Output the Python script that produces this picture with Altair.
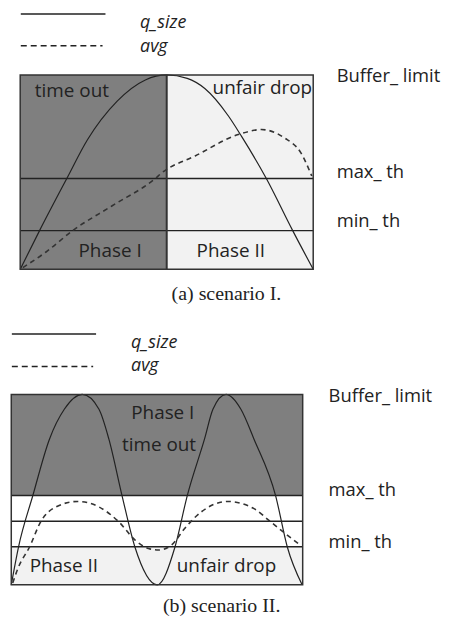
import altair as alt
import pandas as pd

# ---------------- data (box = 0..100 in both axes) ----------------
# scenario I
a_qsize_x = [0, 6.6, 15.9, 22.9, 33.1, 42.7, 50, 57, 63, 71, 75.5, 84, 93, 100]
a_qsize_y = [0, 19.9, 46.7, 66.5, 86.5, 97.4, 100, 98.2, 93.0, 79.0, 68.5, 46.7, 19.9, 0]
a_avg_x = [0.9, 8.8, 17.9, 31.4, 46.1, 48.4, 59.7, 74.4, 82.3, 90.2, 95.8, 99.5]
a_avg_y = [0.9, 8.9, 19.9, 32.7, 46.7, 49.7, 58.3, 69.3, 71.9, 67.6, 59.9, 48.0]
a_thresholds = [46.7, 19.9]          # max_th, min_th
a_phase_split = 50

# scenario II
b_qsize_x = [0, 2.5, 7.4, 13.1, 18.2, 24.4, 30.1, 33.5, 38, 42.4, 50.1, 56.2, 60.4, 66.3, 69.2, 73.7, 78.8, 83.3, 90.7, 94.7, 99.8]
b_qsize_y = [0, 20, 46.9, 76.5, 92.2, 100, 92.2, 76.5, 46.9, 20, 0, 20, 46.9, 76.5, 92.2, 100, 92.2, 76.5, 46.9, 20, 0]
b_avg_x = [0.5, 2.3, 6.3, 10.2, 15.3, 22.7, 30.1, 36.9, 42.5, 47.1, 50.5, 55, 59.5, 65.2, 74.3, 83.3, 89, 94.7, 99.2]
b_avg_y = [1, 8.7, 20, 33.4, 40.9, 43.8, 40.9, 33.1, 23.5, 19.1, 18.3, 20.9, 29.6, 38.3, 43.8, 40, 33.1, 26.1, 20.9]
b_thresholds = [46.9, 33.4, 20.0]

legend_labels = ["q_size", "avg"]
level_labels = ["Buffer_ limit", "max_ th", "min_ th"]
captions = ["(a) scenario I.", "(b) scenario II."]

# ---------------- styling ----------------
DARK = "#7f7f7f"
LIGHT = "#f2f2f2"
INK = "#222222"
SANS = "Open Sans"
SERIF = "Liberation Serif"
W = 438


def make_panel(xd, yd, H, fills, rules, vrules, qx, qy, ax, ay, texts):
    sx = alt.Scale(domain=xd, nice=False, zero=False)
    sy = alt.Scale(domain=yd, nice=False, zero=False)
    X = lambda f="x": alt.X(f"{f}:Q", scale=sx, axis=None)
    Y = lambda f="y": alt.Y(f"{f}:Q", scale=sy, axis=None)
    layers = []
    fdf = pd.DataFrame(fills, columns=["x", "x2", "y", "y2", "c"])
    layers.append(alt.Chart(fdf).mark_rect().encode(
        x=X(), x2="x2:Q", y=Y(), y2="y2:Q",
        fill=alt.Fill("c:N", scale=None)))
    rdf = pd.DataFrame({"x": [0] * len(rules), "x2": [100] * len(rules), "y": rules})
    layers.append(alt.Chart(rdf).mark_rule(color=INK, strokeWidth=1.4).encode(
        x=X(), x2="x2:Q", y=Y()))
    if vrules:
        vdf = pd.DataFrame({"x": vrules, "y": [0] * len(vrules), "y2": [100] * len(vrules)})
        layers.append(alt.Chart(vdf).mark_rule(color="#333333", strokeWidth=2).encode(
            x=X(), y=Y(), y2="y2:Q"))
    layers.append(alt.Chart(pd.DataFrame({"x": qx, "y": qy})).mark_line(
        color=INK, strokeWidth=1.2, interpolate="monotone").encode(x=X(), y=Y()))
    layers.append(alt.Chart(pd.DataFrame({"x": ax, "y": ay})).mark_line(
        color="#333333", strokeWidth=1.6, strokeDash=[5, 4], interpolate="monotone").encode(x=X(), y=Y()))
    layers.append(alt.Chart(pd.DataFrame({"x": [0], "x2": [100], "y": [0], "y2": [100]})).mark_rect(
        fillOpacity=0, stroke="#333333", strokeWidth=1.5).encode(x=X(), x2="x2:Q", y=Y(), y2="y2:Q"))
    # legend samples
    ldf = pd.DataFrame({"x": [0.2], "x2": [29.1], "y": [texts["leg_y"][0]]})
    layers.append(alt.Chart(ldf).mark_rule(color=INK, strokeWidth=1.5).encode(x=X(), x2="x2:Q", y=Y()))
    ldf2 = pd.DataFrame({"x": [0.2], "x2": [28.1], "y": [texts["leg_y"][1]]})
    layers.append(alt.Chart(ldf2).mark_rule(color=INK, strokeWidth=1.5, strokeDash=[6, 4]).encode(
        x=X(), x2="x2:Q", y=Y()))
    for (lab, x, y, align, size, font, style) in texts["items"]:
        tdf = pd.DataFrame({"x": [x], "y": [y], "t": [lab]})
        layers.append(alt.Chart(tdf).mark_text(
            align=align, baseline="alphabetic", font=font, fontSize=size,
            fontStyle=style, color=INK).encode(x=X(), y=Y(), text="t:N"))
    return alt.layer(*layers).properties(width=W, height=H)


texts_a = {
    "leg_y": [131.3, 115.0],
    "items": [
        (legend_labels[0], 40.9, 124.3, "left", 18, SANS, "italic"),
        (legend_labels[1], 40.9, 111.9, "left", 18, SANS, "italic"),
        (level_labels[0], 108.0, 96.6, "left", 18.5, SANS, "normal"),
        (level_labels[1], 108.0, 47.2, "left", 18.5, SANS, "normal"),
        (level_labels[2], 108.0, 22.0, "left", 18.5, SANS, "normal"),
        ("time out", 5.0, 88.4, "left", 19, SANS, "normal"),
        ("unfair drop", 99.6, 90.1, "right", 19, SANS, "normal"),
        ("Phase I", 19.9, 6.3, "left", 19, SANS, "normal"),
        ("Phase II", 60.2, 6.3, "left", 19, SANS, "normal"),
        (captions[0], 70.4, -15.8, "center", 20, SERIF, "normal"),
    ],
}

texts_b = {
    "leg_y": [131.8, 114.7],
    "items": [
        (legend_labels[0], 41.1, 124.3, "left", 18, SANS, "italic"),
        (legend_labels[1], 41.1, 112.2, "left", 18, SANS, "italic"),
        (level_labels[0], 108.9, 96.0, "left", 18.5, SANS, "normal"),
        (level_labels[1], 108.9, 46.9, "left", 18.5, SANS, "normal"),
        (level_labels[2], 108.9, 19.5, "left", 18.5, SANS, "normal"),
        ("Phase I", 52.0, 87.3, "center", 19, SANS, "normal"),
        ("time out", 50.7, 70.4, "center", 19, SANS, "normal"),
        ("Phase II", 6.3, 6.6, "left", 19, SANS, "normal"),
        ("unfair drop", 56.8, 6.6, "left", 19, SANS, "normal"),
        (captions[1], 72.2, -14.2, "center", 20, SERIF, "normal"),
    ],
}

panel_a = make_panel(
    xd=[-3.15, 145.32], yd=[-19.93, 133.37], H=300,
    fills=[[0, a_phase_split, 0, 100, DARK], [a_phase_split, 100, 0, 100, LIGHT]],
    rules=a_thresholds, vrules=[a_phase_split],
    qx=a_qsize_x, qy=a_qsize_y, ax=a_avg_x, ay=a_avg_y, texts=texts_a)

panel_b = make_panel(
    xd=[-0.10, 149.18], yd=[-16.33, 145.38], H=310,
    fills=[[0, 100, b_thresholds[0], 100, DARK], [0, 100, 0, b_thresholds[2], LIGHT]],
    rules=b_thresholds, vrules=[],
    qx=b_qsize_x, qy=b_qsize_y, ax=b_avg_x, ay=b_avg_y, texts=texts_b)

chart = alt.vconcat(panel_a, panel_b, spacing=0).properties(padding=0).configure_view(stroke=None)
chart.save("out.html", embed_options={"renderer": "svg", "actions": False})
